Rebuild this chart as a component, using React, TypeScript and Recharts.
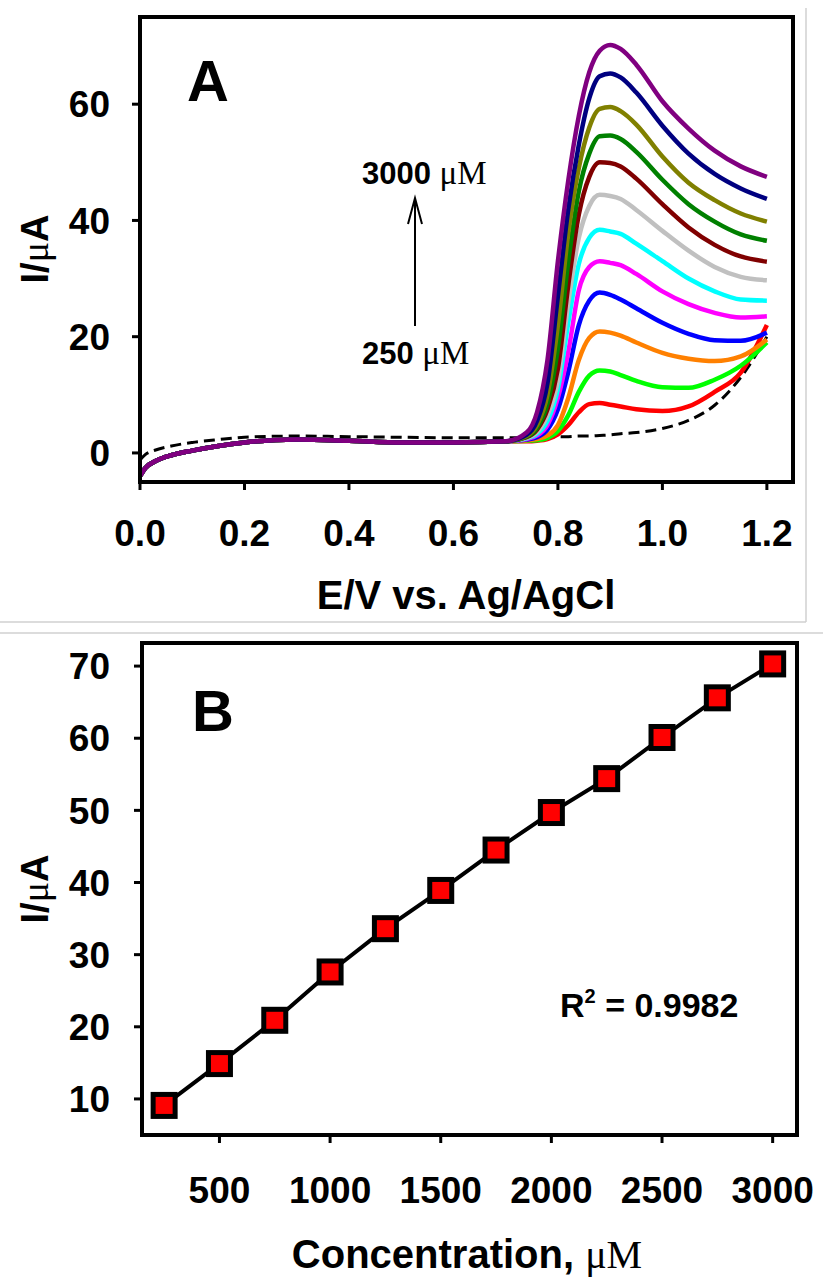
import { Line, LineChart, ReferenceArea, XAxis, YAxis } from 'recharts';

const SANS = 'Arial, "Liberation Sans", sans-serif';
const SERIF = '"Times New Roman", "Liberation Serif", serif';

// Panel A: potential grid (V). Below 0.72 V all additions share the same background.
const lowE = [0, 0.01, 0.03, 0.06, 0.1, 0.15, 0.2, 0.3, 0.4, 0.5, 0.6, 0.7];
const highE = [0.74, 0.76, 0.78, 0.8, 0.82, 0.84, 0.86, 0.88, 0.9, 0.92, 0.95, 1.0, 1.05, 1.1, 1.15, 1.2];
const baseCurrent = [-4, -2.6, -1.4, -0.4, 0.4, 1.2, 1.8, 2.3, 2.1, 1.8, 1.8, 2.0];
// blank (dashed) over the full grid
const blankCurrent = [
  -1.2, -0.3, 0.5, 1.2, 1.8, 2.3, 2.7, 2.9, 2.8, 2.7, 2.6, 2.6,
  2.6, 2.6, 2.7, 2.8, 2.8, 2.9, 2.9, 3.0, 3.1, 3.3, 3.5, 4.2, 5.6, 8.2, 13, 20,
];

// currents (µA) over highE, one array per concentration
const c250 = [2.0, 2.1, 2.4, 3.2, 4.8, 7.0, 8.4, 8.6, 8.3, 8.0, 7.5, 7.2, 8.0, 10.5, 13.8, 22];
const c500 = [2.1, 2.2, 2.6, 3.8, 6.5, 10.5, 13.3, 14.2, 14.0, 13.4, 12.4, 11.3, 11.2, 12.6, 15.0, 19.0];
const c750 = [2.2, 2.4, 3.0, 4.8, 9.5, 16.0, 19.8, 20.9, 20.7, 20.2, 19.0, 17.2, 16.2, 15.8, 16.6, 19.5];
const c1000 = [2.3, 2.7, 4.0, 7.5, 14, 22, 26.2, 27.6, 27.2, 26.4, 24.9, 22.4, 20.5, 19.4, 19.3, 20.7];
const c1250 = [2.4, 3.0, 4.8, 9.5, 17.5, 28, 32, 33, 32.7, 32.3, 30.8, 27.8, 25.6, 24.1, 23.3, 23.5];
const c1500 = [2.5, 3.3, 5.5, 11, 22.5, 32.5, 37, 38.4, 38.1, 37.7, 36.0, 33.0, 30.0, 27.8, 26.4, 26.2];
const c1750 = [2.6, 3.6, 6.5, 12.5, 26, 37, 42.5, 44.4, 44.2, 43.7, 41.8, 38.2, 34.8, 32.0, 30.3, 29.7];
const c2000 = [2.7, 4.0, 7.5, 14.5, 29, 41, 47.5, 50, 49.9, 49.3, 47.2, 42.8, 38.8, 35.8, 33.8, 32.9];
const c2250 = [2.8, 4.3, 8.5, 18, 33, 45, 51.5, 54.5, 54.6, 54.0, 51.8, 47.0, 42.8, 39.8, 37.6, 36.5];
const c2500 = [2.9, 4.8, 10, 22, 38, 49, 56, 59.2, 59.5, 58.8, 56.5, 51.0, 46.5, 43.5, 41.2, 39.8];
const c2750 = [3.1, 5.5, 12, 27, 42, 53, 61, 64.8, 65.3, 64.6, 62.0, 56.3, 51.5, 48.0, 45.5, 43.7];
const c3000 = [3.5, 7, 16, 33, 47, 58, 65.5, 69.2, 70.2, 69.5, 66.8, 60.5, 55.8, 52.0, 49.3, 47.5];

const eTicks = [0, 0.2, 0.4, 0.6, 0.8, 1.0, 1.2];
const iTicksA = [0, 20, 40, 60];

// Panel B: calibration
const conc = [250, 500, 750, 1000, 1250, 1500, 1750, 2000, 2250, 2500, 2750, 3000];
const peakCurrent = [9.1, 14.9, 20.9, 27.6, 33.6, 38.9, 44.5, 49.7, 54.4, 60.1, 65.6, 70.3];
const concTicks = [500, 1000, 1500, 2000, 2500, 3000];
const iTicksB = [10, 20, 30, 40, 50, 60, 70];

const series = [
  { key: 'c250', values: c250, color: '#FF0000' },
  { key: 'c500', values: c500, color: '#00FF00' },
  { key: 'c750', values: c750, color: '#FF8000' },
  { key: 'c1000', values: c1000, color: '#0000FF' },
  { key: 'c1250', values: c1250, color: '#FF00FF' },
  { key: 'c1500', values: c1500, color: '#00FFFF' },
  { key: 'c1750', values: c1750, color: '#C0C0C0' },
  { key: 'c2000', values: c2000, color: '#800000' },
  { key: 'c2250', values: c2250, color: '#008000' },
  { key: 'c2500', values: c2500, color: '#808000' },
  { key: 'c2750', values: c2750, color: '#000080' },
  { key: 'c3000', values: c3000, color: '#800080' },
];

const potentials = [...lowE, ...highE];
const rowsA = potentials.map((e, i) => {
  const row: Record<string, number> = { e, blank: blankCurrent[i] };
  series.forEach((s) => {
    row[s.key] = i < lowE.length ? baseCurrent[i] : s.values[i - lowE.length];
  });
  return row;
});

const rowsB = conc.map((c, i) => ({ c, i: peakCurrent[i] }));

const tickStyle = { fill: '#000', fontSize: 37, fontWeight: 700, fontFamily: SANS };
const axisLine = { stroke: '#000', strokeWidth: 4 };
const tickLine = { stroke: '#000', strokeWidth: 3 };

const Square = (props: any) => {
  const { cx, cy, index } = props;
  if (cx == null || cy == null) return <g key={index} />;
  return (
    <rect key={index} x={cx - 11} y={cy - 11} width={22} height={22} fill="#FF0000" stroke="#000" strokeWidth={5} />
  );
};

function PanelA() {
  return (
    <LineChart width={823} height={620} data={rowsA} margin={{ top: 17, right: 30, bottom: 0, left: 0 }}>
      <XAxis
        dataKey="e"
        type="number"
        domain={[0, 1.25]}
        ticks={eTicks}
        tickFormatter={(v) => v.toFixed(1)}
        height={138}
        axisLine={axisLine}
        tickLine={tickLine}
        tickSize={8}
        tickMargin={30}
        tick={tickStyle}
        allowDataOverflow
      />
      <YAxis
        type="number"
        domain={[-5, 75]}
        ticks={iTicksA}
        width={140}
        axisLine={axisLine}
        tickLine={tickLine}
        tickSize={8}
        tickMargin={22}
        tick={tickStyle}
        allowDataOverflow
      />
      <ReferenceArea x1={0} x2={1.25} y1={-5} y2={75} fill="none" stroke="#000" strokeWidth={4} />
      <Line
        dataKey="blank"
        type="monotone"
        stroke="#000"
        strokeWidth={3}
        strokeDasharray="11 6"
        dot={false}
        isAnimationActive={false}
      />
      {series.map((s) => (
        <Line
          key={s.key}
          dataKey={s.key}
          type="monotone"
          stroke={s.color}
          strokeWidth={4.5}
          dot={false}
          isAnimationActive={false}
        />
      ))}
    </LineChart>
  );
}

function PanelB() {
  return (
    <LineChart width={823} height={653} data={rowsB} margin={{ top: 17, right: 26, bottom: 0, left: 0 }}>
      <XAxis
        dataKey="c"
        type="number"
        domain={[150, 3110]}
        ticks={concTicks}
        height={144}
        axisLine={axisLine}
        tickLine={tickLine}
        tickSize={8}
        tickMargin={34}
        tick={tickStyle}
        allowDataOverflow
      />
      <YAxis
        type="number"
        domain={[5, 73.2]}
        ticks={iTicksB}
        width={142}
        axisLine={axisLine}
        tickLine={tickLine}
        tickSize={8}
        tickMargin={24}
        tick={tickStyle}
        allowDataOverflow
      />
      <ReferenceArea x1={150} x2={3110} y1={5} y2={73.2} fill="none" stroke="#000" strokeWidth={4} />
      <Line
        dataKey="i"
        type="linear"
        stroke="#000"
        strokeWidth={4}
        dot={Square}
        activeDot={false}
        isAnimationActive={false}
      />
    </LineChart>
  );
}

function Overlay() {
  const bold = { fontFamily: SANS, fontWeight: 700, fill: '#000' };
  const mu = { fontFamily: SERIF, fontWeight: 400 };
  return (
    <svg width={823} height={1279} style={{ position: 'absolute', left: 0, top: 0, pointerEvents: 'none' }}>
      {/* light frame lines around panel A */}
      <line x1={806} y1={8} x2={806} y2={622} stroke="#d0d0d0" strokeWidth={1.5} />
      <line x1={0} y1={622} x2={806} y2={622} stroke="#d0d0d0" strokeWidth={1.5} />
      <line x1={0} y1={633} x2={823} y2={633} stroke="#d0d0d0" strokeWidth={1.5} />

      <text x={187} y={101} fontSize={58} {...bold}>A</text>
      <text x={192} y={731} fontSize={58} {...bold}>B</text>

      <text x={362} y={184} fontSize={31} {...bold}>
        3000 <tspan {...mu} fontSize={33}>μM</tspan>
      </text>
      <text x={362} y={364} fontSize={31} {...bold}>
        250 <tspan {...mu} fontSize={33}>μM</tspan>
      </text>
      <line x1={415} y1={326} x2={415} y2={199} stroke="#000" strokeWidth={2} />
      <polyline points="408,224 415,198 422,224" fill="none" stroke="#000" strokeWidth={2} />

      <text x={560} y={1017} fontSize={34} {...bold}>
        R<tspan fontSize={20} dy={-14}>2</tspan>
        <tspan dy={14}> = 0.9982</tspan>
      </text>

      <text x={466} y={609} fontSize={40} textAnchor="middle" {...bold}>E/V vs. Ag/AgCl</text>
      <text x={467} y={1268} fontSize={40} textAnchor="middle" {...bold}>
        Concentration, <tspan {...mu}>μM</tspan>
      </text>

      <text transform="translate(48,249) rotate(-90)" fontSize={38} textAnchor="middle" {...bold}>
        I/<tspan {...mu}>μ</tspan>A
      </text>
      <text transform="translate(48,889) rotate(-90)" fontSize={38} textAnchor="middle" {...bold}>
        I/<tspan {...mu}>μ</tspan>A
      </text>
    </svg>
  );
}

export default function App() {
  return (
    <div style={{ position: 'absolute', left: 0, top: 0, width: 823, height: 1279, background: '#fff' }}>
      <div style={{ position: 'absolute', left: 0, top: 0 }}>
        <PanelA />
      </div>
      <div style={{ position: 'absolute', left: 0, top: 626 }}>
        <PanelB />
      </div>
      <Overlay />
    </div>
  );
}
